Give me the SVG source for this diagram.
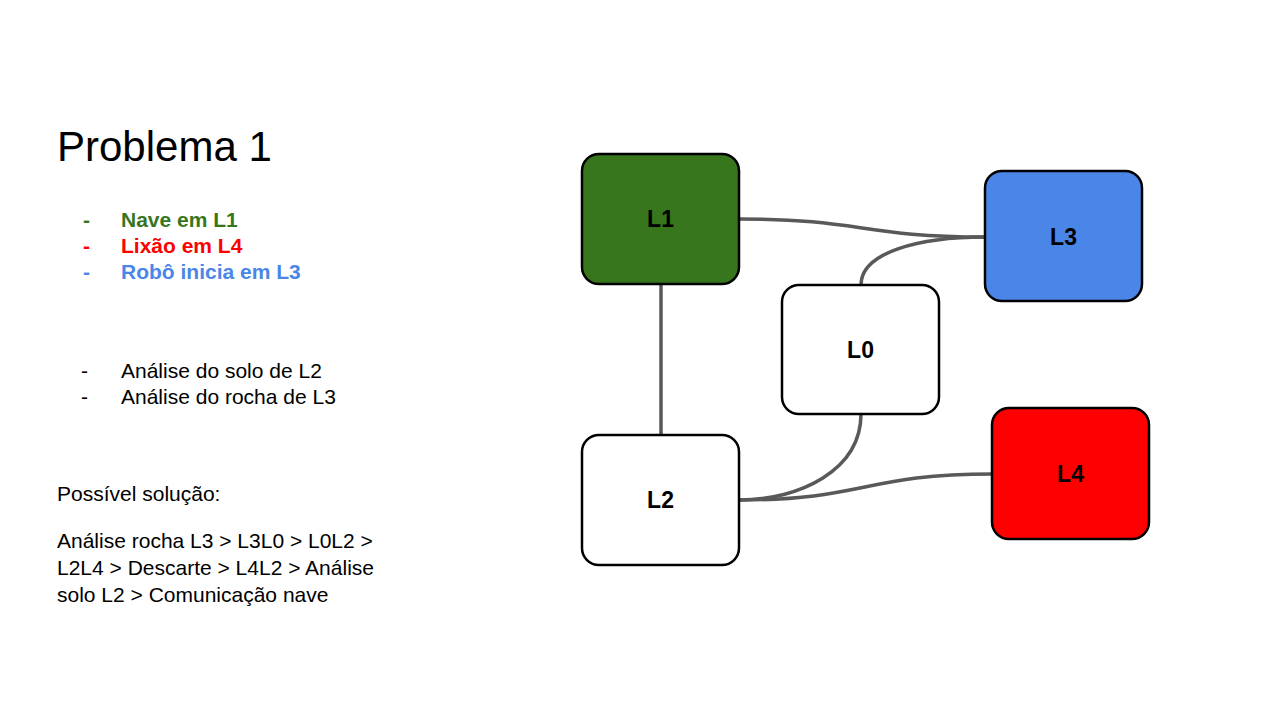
<svg xmlns="http://www.w3.org/2000/svg" width="1280" height="720" viewBox="0 0 1280 720">
<style>
text{font-family:"Liberation Sans",Arial,sans-serif;}
.t{font-size:21px;fill:#000;}
.b{font-size:21px;font-weight:bold;}
.node rect{stroke:#000;stroke-width:2.5;}
.node text{font-size:23px;font-weight:bold;text-anchor:middle;fill:#000;}
.conn path{fill:none;stroke:#595959;stroke-width:3.5;}
</style>
<rect width="1280" height="720" fill="#fff"/>
<text x="57" y="161" style="font-size:42px">Problema 1</text>
<g class="b">
<text x="83" y="227" fill="#38761d">-</text><text x="121" y="227" fill="#38761d">Nave em L1</text>
<text x="83" y="253" fill="#ff0000">-</text><text x="121" y="253" fill="#ff0000">Lixão em L4</text>
<text x="83" y="279" fill="#4a86e8">-</text><text x="121" y="279" fill="#4a86e8">Robô inicia em L3</text>
</g>
<text class="t" x="81" y="378">-</text><text class="t" x="121" y="378">Análise do solo de L2</text>
<text class="t" x="81" y="404">-</text><text class="t" x="121" y="404">Análise do rocha de L3</text>
<text class="t" x="57" y="501">Possível solução:</text>
<text class="t" x="57" y="548">Análise rocha L3 &gt; L3L0 &gt; L0L2 &gt;</text>
<text class="t" x="57" y="575">L2L4 &gt; Descarte &gt; L4L2 &gt; Análise</text>
<text class="t" x="57" y="602">solo L2 &gt; Comunicação nave</text>
<g id="connectors" class="conn">
<path d="M739,219 C862,219 862,237 985,237"/>
<path d="M861,285 C861,252 920,237 985,237"/>
<path d="M661,284 L661,435"/>
<path d="M861,414 C861,470 800,500 739,500"/>
<path d="M739,500 C865,500 865,474 992,474"/>
</g>
<g id="L1" class="node"><rect x="582" y="154" width="157" height="130" rx="17" fill="#38761d"/><text x="660.5" y="227">L1</text></g>
<g id="L3" class="node"><rect x="985" y="171" width="157" height="130" rx="17" fill="#4a86e8"/><text x="1063.5" y="245">L3</text></g>
<g id="L0" class="node"><rect x="782" y="285" width="157" height="129" rx="17" fill="#fff"/><text x="860.5" y="358">L0</text></g>
<g id="L2" class="node"><rect x="582" y="435" width="157" height="130" rx="17" fill="#fff"/><text x="660.5" y="508">L2</text></g>
<g id="L4" class="node"><rect x="992" y="408" width="157" height="131" rx="17" fill="#ff0000"/><text x="1070.5" y="482">L4</text></g>
</svg>
